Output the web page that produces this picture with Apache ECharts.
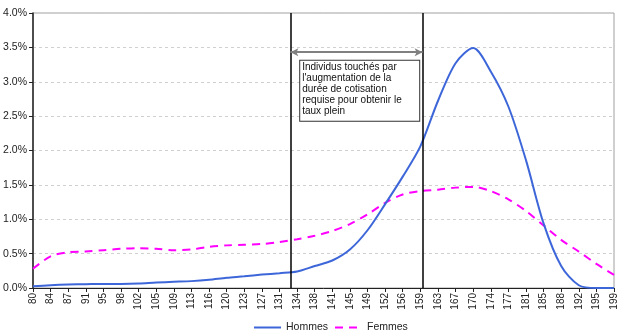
<!DOCTYPE html>
<html>
<head>
<meta charset="utf-8">
<script src="https://cdn.jsdelivr.net/npm/echarts@6/dist/echarts.min.js"></script>
<style>
html,body{margin:0;padding:0;background:#fff;}
#chart{width:619px;height:333px;}
</style>
</head>
<body>
<div id="chart"></div>
<script>
var categories = ['80','84','87','91','95','98','102','105','109','113','116','120','123','127','131','134','138','141','145','149','152','156','159','163','167','170','174','177','181','185','188','192','195','199'];
var hommes = [0.025,0.04,0.05,0.055,0.06,0.06,0.065,0.08,0.09,0.10,0.12,0.15,0.17,0.195,0.215,0.24,0.32,0.40,0.56,0.84,1.22,1.62,2.06,2.72,3.27,3.49,3.15,2.64,1.86,0.94,0.32,0.04,0.0,0.0];
var femmes = [0.28,0.46,0.52,0.53,0.55,0.57,0.58,0.57,0.55,0.56,0.60,0.62,0.63,0.64,0.67,0.71,0.76,0.83,0.93,1.07,1.24,1.36,1.41,1.43,1.46,1.47,1.41,1.29,1.12,0.91,0.70,0.53,0.35,0.19];
var yTicks = {min: 0, max: 4, interval: 0.5};
var bounds = [14.62, 22.13];   // positions (category index) of the two vertical lines
var arrowY = 3.43;
var noteText = "Individus touchés par\nl'augmentation de la\ndurée de cotisation\nrequise pour obtenir le\ntaux plein";

var chart = echarts.init(document.getElementById('chart'));
var font = 'Liberation Sans, Arial, sans-serif';
chart.setOption({
  animation: false,
  backgroundColor: '#fff',
  textStyle: {fontFamily: font},
  grid: {left: 33, right: 4, top: 13, bottom: 45, show: true, borderColor: '#a0a0a0', borderWidth: 1},
  legend: {
    top: 317, left: 248, itemWidth: 27, itemHeight: 12, itemGap: 6,
    itemStyle: {opacity: 0},
    textStyle: {fontSize: 10.5, color: '#222', fontFamily: font},
    data: ['Hommes', 'Femmes']
  },
  xAxis: [{
    type: 'category', data: categories, boundaryGap: false,
    axisLine: {lineStyle: {color: '#222', width: 1}},
    axisTick: {show: true, length: 4, interval: 0, lineStyle: {color: '#222'}},
    axisLabel: {rotate: 90, interval: 0, fontSize: 10, color: '#222', margin: 5, fontFamily: font},
    splitLine: {show: false}
  }, {
    type: 'value', min: 0, max: categories.length - 1, show: false
  }],
  yAxis: [{
    type: 'value', min: yTicks.min, max: yTicks.max, interval: yTicks.interval,
    axisLine: {show: true, lineStyle: {color: '#222', width: 1.5}},
    axisTick: {show: true, length: 4, lineStyle: {color: '#222'}},
    axisLabel: {formatter: function (v) { return v.toFixed(1) + '%'; }, fontSize: 10.5, color: '#222', margin: 6, fontFamily: font},
    splitLine: {show: true, lineStyle: {color: '#d0d0d0', type: [3, 3], width: 1}}
  }],
  series: [{
    name: 'Hommes', type: 'line', data: hommes, smooth: 0.3,
    symbol: 'none', lineStyle: {color: '#3d66d9', width: 2}, itemStyle: {color: '#3d66d9'}, z: 3
  }, {
    name: 'Femmes', type: 'line', data: femmes, smooth: 0.3,
    symbol: 'none', lineStyle: {color: '#ff00ff', width: 2, type: [8, 6]}, itemStyle: {color: '#ff00ff'}, z: 2
  }, {
    name: 'marks', type: 'line', xAxisIndex: 1, data: [], silent: true,
    markLine: {
      silent: true, animation: false, label: {show: false},
      symbol: ['none', 'none'],
      lineStyle: {color: '#808080', width: 2, type: 'solid'},
      data: [
        {xAxis: bounds[0], lineStyle: {color: '#000', width: 1.5, type: 'solid'}},
        {xAxis: bounds[1], lineStyle: {color: '#000', width: 1.5, type: 'solid'}},
        [{coord: [bounds[0], arrowY], symbol: 'arrow', symbolSize: [6, 8]},
         {coord: [bounds[1], arrowY], symbol: 'arrow', symbolSize: [6, 8]}]
      ]
    }
  }]
});

var p = chart.convertToPixel({xAxisIndex: 1, yAxisIndex: 0}, [15.12, 3.32]);
chart.setOption({
  graphic: [{
    type: 'text', left: p[0], top: p[1], z: 10,
    style: {
      text: noteText, fontSize: 10, lineHeight: 11, fill: '#111', fontFamily: font,
      backgroundColor: '#fff', borderColor: '#333', borderWidth: 1,
      padding: [1, 4, 4, 2], width: 113, overflow: 'none'
    }
  }]
});
</script>
</body>
</html>
